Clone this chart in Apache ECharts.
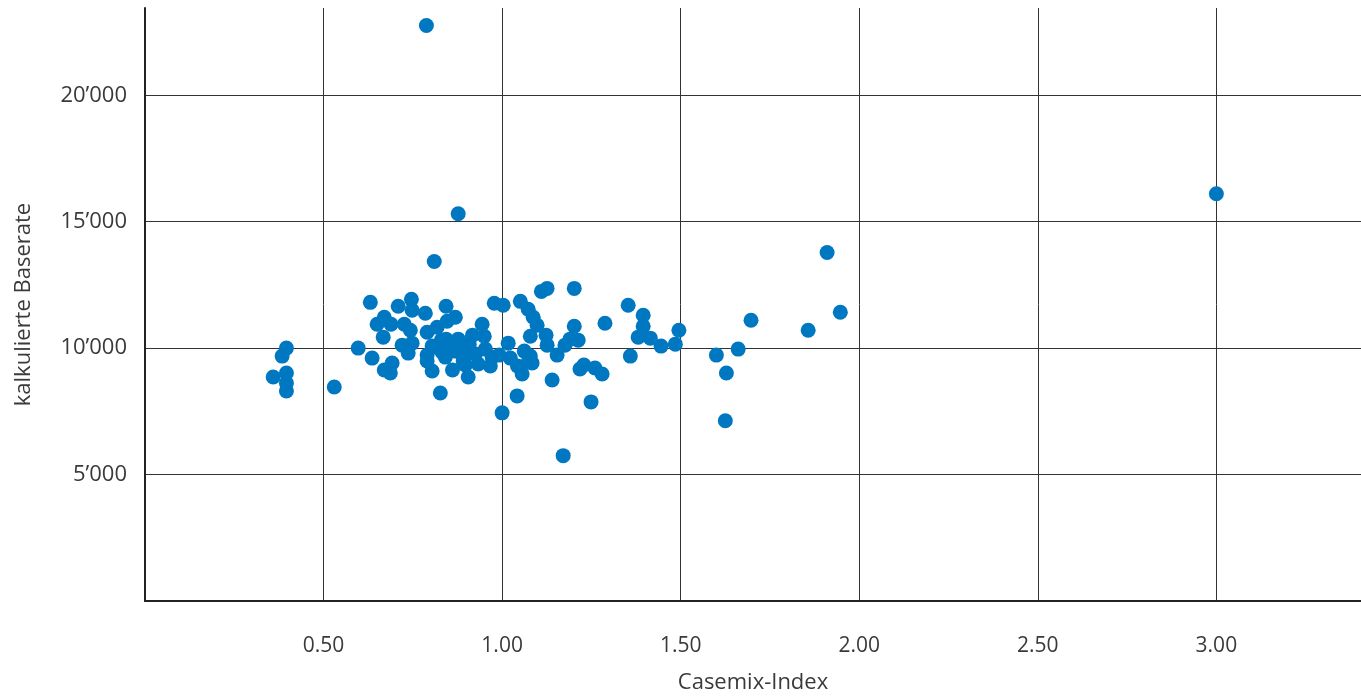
<!DOCTYPE html>
<html>
<head>
<meta charset="utf-8">
<script src="https://cdn.jsdelivr.net/npm/echarts@6/dist/echarts.min.js"></script>
<style>
html,body{margin:0;padding:0;background:#fff;}
#chart{width:1361px;height:699px;}
</style>
</head>
<body>
<div id="chart"></div>
<script>
// Casemix-Index values (x)
const casemixIndex = [
  0.359, 0.384, 0.396, 0.396, 0.396, 0.396, 0.530, 0.597, 0.631, 0.636,
  0.650, 0.670, 0.667, 0.670, 0.687, 0.692, 0.689, 0.709, 0.726, 0.720,
  0.737, 0.743, 0.748, 0.746, 0.748, 0.788, 0.785, 0.790, 0.790, 0.790,
  0.804, 0.804, 0.810, 0.818, 0.827, 0.830, 0.841, 0.843, 0.846, 0.843,
  0.861, 0.869, 0.877, 0.877, 0.869, 0.889, 0.897, 0.905, 0.908, 0.917,
  0.925, 0.933, 0.944, 0.950, 0.953, 0.967, 0.978, 0.992, 1.003, 1.000,
  1.017, 1.023, 1.043, 1.042, 1.051, 1.056, 1.062, 1.073, 1.079, 1.084,
  1.087, 1.098, 1.110, 1.126, 1.123, 1.126, 1.140, 1.154, 1.171, 1.176,
  1.202, 1.202, 1.190, 1.213, 1.218, 1.229, 1.249, 1.260, 1.280, 1.288,
  1.353, 1.359, 1.381, 1.395, 1.395, 1.415, 1.445, 1.485, 1.495, 1.600,
  1.628, 1.625, 1.661, 1.697, 1.857, 1.910, 1.947, 3.000,
  0.818, 0.832, 0.855, 0.883, 0.891, 0.910, 0.972, 1.073, 1.079
];
// kalkulierte Baserate values (y)
const baserate = [
  8858, 9685, 10000, 9016, 8622, 8307, 8465, 10000, 11811, 9606,
  10945, 11220, 10433, 9134, 9016, 9409, 10945, 11654, 10945, 10118,
  9803, 10709, 10197, 11929, 11496, 22756, 11378, 10630, 9725, 9488,
  9094, 10079, 13425, 10827, 8228, 10315, 9646, 11654, 11063, 10354,
  9134, 11220, 15315, 10354, 9882, 9725, 9331, 8858, 10157, 10512,
  9764, 9370, 10945, 10472, 9961, 9291, 11772, 9725, 11693, 7441,
  10197, 9606, 9291, 8110, 11850, 8976, 9882, 11535, 10472, 9409,
  11220, 10905, 12244, 12362, 10512, 10118, 8740, 9725, 5748, 10118,
  12362, 10866, 10354, 10315, 9173, 9331, 7874, 9213, 8976, 10984,
  11693, 9685, 10433, 11299, 10866, 10394, 10079, 10157, 10709, 9725,
  9016, 7126, 9961, 11102, 10709, 13780, 11417, 16102,
  10039, 9843, 10079, 10236, 9488, 9882, 9646, 9449, 9685
];
const xTicks = [0.5, 1.0, 1.5, 2.0, 2.5, 3.0];
const yTicks = [5000, 10000, 15000, 20000];

const points = casemixIndex.map((x, i) => [x, baserate[i]]);
const fontFamily = '"Open Sans", "Noto Sans", sans-serif';
const textColor = '#3a3a3a';

const chart = echarts.init(document.getElementById('chart'), null, {renderer: 'canvas'});
chart.setOption({
  animation: false,
  backgroundColor: '#ffffff',
  grid: {left: 145, right: 0, top: 8, bottom: 92, containLabel: false},
  xAxis: {
    type: 'value',
    min: 0,
    max: 3.405,
    interval: 0.5,
    name: 'Casemix-Index',
    nameLocation: 'middle',
    nameGap: 71,
    nameTextStyle: {color: textColor, fontSize: 22, fontFamily: fontFamily},
    axisLine: {show: true, onZero: false, lineStyle: {color: '#222222', width: 2}},
    axisTick: {show: false},
    axisLabel: {
      color: textColor, fontSize: 21, fontFamily: fontFamily, margin: 35,
      showMinLabel: false, showMaxLabel: false,
      formatter: v => xTicks.some(t => Math.abs(t - v) < 1e-9) ? v.toFixed(2) : ''
    },
    splitLine: {show: true, showMinLine: false, showMaxLine: false, lineStyle: {color: '#333333', width: 1}}
  },
  yAxis: {
    type: 'value',
    min: 0,
    max: 23450,
    interval: 5000,
    name: 'kalkulierte Baserate',
    nameLocation: 'middle',
    nameGap: 110,
    nameTextStyle: {color: textColor, fontSize: 22, fontFamily: fontFamily},
    axisLine: {show: true, onZero: false, lineStyle: {color: '#222222', width: 2}},
    axisTick: {show: false},
    axisLabel: {
      color: textColor, fontSize: 22, fontFamily: fontFamily, margin: 18,
      showMinLabel: false, showMaxLabel: false,
      formatter: v => yTicks.indexOf(v) >= 0 ? String(v).replace(/\B(?=(\d{3})+(?!\d))/g, '\u2019') : ''
    },
    splitLine: {show: true, showMinLine: false, showMaxLine: false, lineStyle: {color: '#333333', width: 1}}
  },
  series: [{
    type: 'scatter',
    data: points,
    symbol: 'circle',
    symbolSize: 15,
    itemStyle: {color: '#0078c1', opacity: 1},
    clip: false
  }]
});
</script>
</body>
</html>
